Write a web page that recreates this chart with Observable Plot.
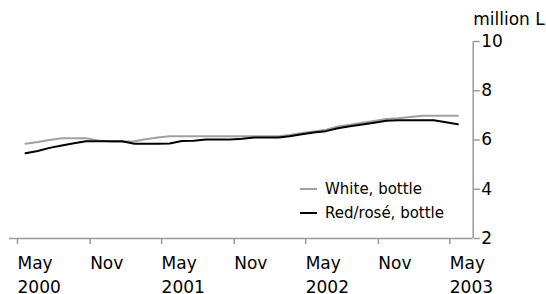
<!DOCTYPE html>
<html><head><meta charset="utf-8">
<script src="https://cdn.jsdelivr.net/npm/d3@7"></script>
<script src="https://cdn.jsdelivr.net/npm/@observablehq/plot@0.6"></script>
<style>
body{margin:0;background:#fff}
#c{position:relative;width:546px;height:294px;font-family:"DejaVu Sans",sans-serif;color:#000}
#legend{position:absolute;left:300px;top:177px;font-size:15px;line-height:24px}
#legend .row{display:flex;align-items:center;height:24px}
#legend .sw{width:17px;height:0;border-top:2px solid;margin-right:8px}
</style></head>
<body><div id="c"></div>
<script>
const startMonth = "2000-05";
const white = [5.85,5.92,6.0,6.07,6.07,6.07,5.98,5.94,5.93,5.95,6.03,6.1,6.15,6.15,6.15,6.15,6.15,6.15,6.15,6.15,6.15,6.15,6.2,6.28,6.35,6.42,6.55,6.62,6.7,6.77,6.85,6.88,6.93,6.98,6.98,6.98,6.98];
const red = [5.46,5.55,5.68,5.78,5.87,5.95,5.95,5.95,5.95,5.85,5.85,5.85,5.86,5.96,5.97,6.02,6.02,6.02,6.05,6.1,6.1,6.1,6.15,6.23,6.3,6.36,6.48,6.56,6.63,6.7,6.78,6.8,6.8,6.8,6.8,6.72,6.64];
const seriesNames = ["White, bottle", "Red/rosé, bottle"];
const seriesColors = ["#a0a0a0", "#000000"];
const yTicks = [2,4,6,8,10];
const xTickMonths = ["2000-05","2000-11","2001-05","2001-11","2002-05","2002-11","2003-05"];

const parse = d3.utcParse("%Y-%m");
const t0 = parse(startMonth);
const dates = white.map((_, i) => d3.utcMonth.offset(t0, i));
const data = [];
dates.forEach((d, i) => {
  data.push({date: d, value: white[i], series: seriesNames[0]});
  data.push({date: d, value: red[i], series: seriesNames[1]});
});
const tickDates = xTickMonths.map(parse);
const tA = +tickDates[0], tB = +tickDates[tickDates.length - 1];
const k = (457.3 - 25) / (tB - tA);
const xDomain = [new Date(tA - 16 / k), new Date(tB + 15.4 / k)];

const fmt = d => d.getUTCMonth() === 4 ? "May\n" + d.getUTCFullYear() : "Nov";

const chart = Plot.plot({
  width: 546, height: 294,
  marginLeft: 9, marginRight: 73.3, marginTop: 41, marginBottom: 56,
  style: {fontFamily: "DejaVu Sans", fontSize: "17px", color: "#000", background: "#fff"},
  x: {type: "utc", domain: xDomain},
  y: {domain: [2, 10]},
  color: {domain: seriesNames, range: seriesColors},
  marks: [
    Plot.ruleY([2], {stroke: "#999", strokeWidth: 1.5}),
    Plot.ruleX([xDomain[1]], {stroke: "#999", strokeWidth: 1.5}),
    Plot.axisY({anchor: "right", ticks: yTicks, tickSize: 6, tickPadding: 2, stroke: "#999", strokeWidth: 1.5, fontSize: 17, label: null}),
    Plot.axisX({ticks: tickDates, tickSize: 6, tickPadding: 7, tickFormat: fmt, textAnchor: "start", dx: -8, lineHeight: 1.42, fontSize: 17, stroke: "#999", strokeWidth: 1.5, label: null}),
    Plot.line(data, {x: "date", y: "value", z: "series", stroke: "series", strokeWidth: 2}),
    Plot.text(["million L"], {frameAnchor: "top-right", textAnchor: "start", lineAnchor: "bottom", dy: -17, fontSize: 17})
  ]
});
const c = document.getElementById("c");
c.appendChild(chart);
const lg = document.createElement("div");
lg.id = "legend";
seriesNames.forEach((n, i) => {
  const r = document.createElement("div"); r.className = "row";
  const s = document.createElement("span"); s.className = "sw"; s.style.borderColor = seriesColors[i];
  const t = document.createElement("span"); t.textContent = n;
  r.appendChild(s); r.appendChild(t); lg.appendChild(r);
});
c.appendChild(lg);
</script></body></html>
